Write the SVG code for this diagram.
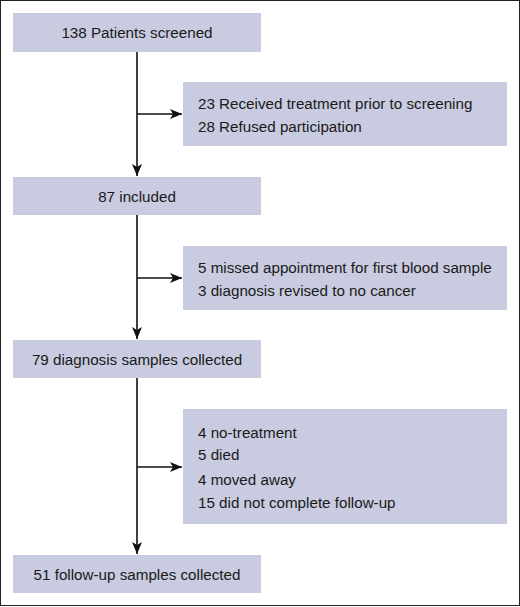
<svg xmlns="http://www.w3.org/2000/svg" width="520" height="607" viewBox="0 0 520 607">
<defs>
<style>
.box{fill:#c9cbe0;}
.t{font-family:"Liberation Sans",Arial,sans-serif;font-size:15.2px;fill:#1a1a1a;}
.c{text-anchor:middle;}
.ln{stroke:#111;stroke-width:1.6;fill:none;}
</style>
<marker id="ah" viewBox="0 0 12 10" refX="12" refY="5" markerWidth="12" markerHeight="10" markerUnits="userSpaceOnUse" orient="auto">
<path d="M0,0 L12,5 L0,10 L3,5 Z" fill="#111"/>
</marker>
</defs>
<rect x="0.5" y="0.5" width="519" height="605" fill="#fff" stroke="#222" stroke-width="1"/>
<g id="connectors">
<line class="ln" x1="137" y1="52" x2="137" y2="176" marker-end="url(#ah)"/>
<line class="ln" x1="137" y1="114" x2="182" y2="114" marker-end="url(#ah)"/>
<line class="ln" x1="137" y1="215" x2="137" y2="339" marker-end="url(#ah)"/>
<line class="ln" x1="137" y1="278" x2="182" y2="278" marker-end="url(#ah)"/>
<line class="ln" x1="137" y1="378" x2="137" y2="554" marker-end="url(#ah)"/>
<line class="ln" x1="137" y1="467" x2="182" y2="467" marker-end="url(#ah)"/>
</g>
<g id="n1">
<rect class="box" x="13" y="13" width="248" height="39"/>
<text class="t c" x="137" y="38">138 Patients screened</text>
</g>
<g id="e1">
<rect class="box" x="183" y="82" width="324" height="64"/>
<text class="t" x="198" y="108.5">23 Received treatment prior to screening</text>
<text class="t" x="198" y="131.5">28 Refused participation</text>
</g>
<g id="n2">
<rect class="box" x="13" y="177" width="248" height="38"/>
<text class="t c" x="137" y="201.5">87 included</text>
</g>
<g id="e2">
<rect class="box" x="183" y="246" width="324" height="64"/>
<text class="t" x="198" y="272.5">5 missed appointment for first blood sample</text>
<text class="t" x="198" y="295.5">3 diagnosis revised to no cancer</text>
</g>
<g id="n3">
<rect class="box" x="13" y="340" width="248" height="38"/>
<text class="t c" x="137" y="364.5">79 diagnosis samples collected</text>
</g>
<g id="e3">
<rect class="box" x="183" y="409" width="324" height="115"/>
<text class="t" x="198" y="437.5">4 no-treatment</text>
<text class="t" x="198" y="460">5 died</text>
<text class="t" x="198" y="484.5">4 moved away</text>
<text class="t" x="198" y="507.5">15 did not complete follow-up</text>
</g>
<g id="n4">
<rect class="box" x="13" y="555" width="248" height="38"/>
<text class="t c" x="137" y="579.5">51 follow-up samples collected</text>
</g>
</svg>
